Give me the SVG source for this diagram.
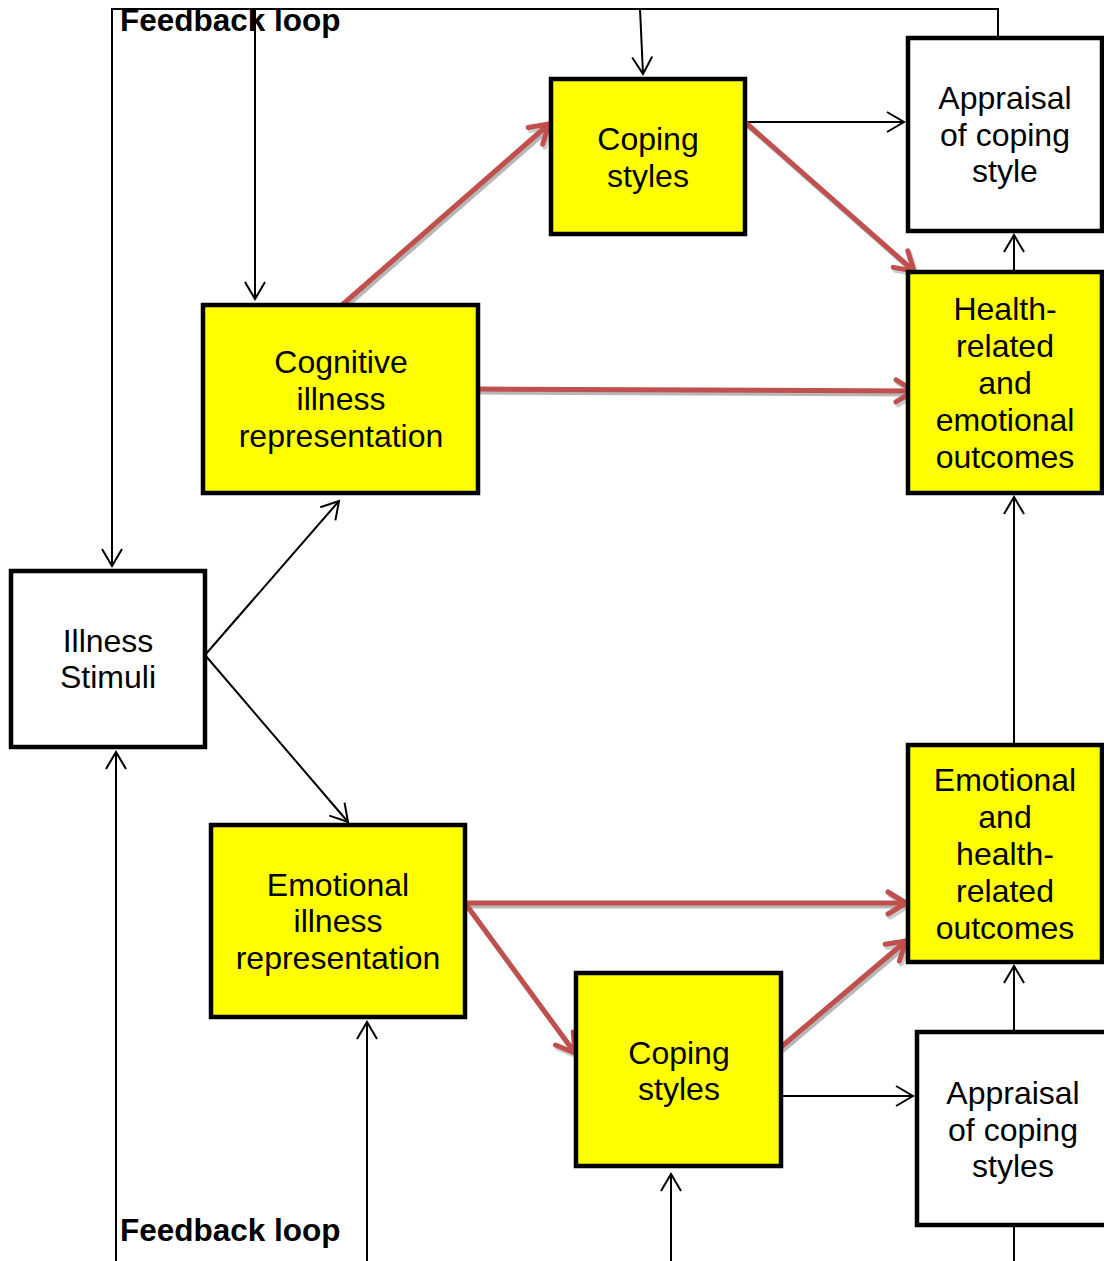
<svg xmlns="http://www.w3.org/2000/svg" width="1104" height="1261" viewBox="0 0 1104 1261">
<style>
.box{stroke:#000;stroke-width:4.5}
.y{fill:#ffff00}
.w{fill:#fff}
.t{font-family:"Liberation Sans",Arial,sans-serif;font-size:32px;fill:#000;text-anchor:middle}
.fb{font-family:"Liberation Sans",Arial,sans-serif;font-size:31.5px;font-weight:bold;fill:#000}
.k{stroke:#000;stroke-width:2;fill:none}
.r{stroke:#c0504d;stroke-width:5;fill:none;stroke-linecap:round}
.s{stroke:#999;stroke-width:5;fill:none;stroke-linecap:round;opacity:0.7}
</style>
<defs>
<marker id="ak" markerUnits="userSpaceOnUse" markerWidth="30" markerHeight="30" refX="0" refY="0" viewBox="-20 -15 25 30" orient="auto" overflow="visible">
<path d="M-17,-10 L0,0 L-17,10" fill="none" stroke="#000" stroke-width="2"/>
</marker>
<marker id="ar" markerUnits="userSpaceOnUse" markerWidth="30" markerHeight="30" refX="0" refY="0" viewBox="-20 -15 25 30" orient="auto" overflow="visible">
<path d="M-18,-11 L0,0 L-18,11" fill="none" stroke="#c0504d" stroke-width="5" stroke-linecap="round" stroke-linejoin="round"/>
</marker>
<marker id="as" markerUnits="userSpaceOnUse" markerWidth="30" markerHeight="30" refX="0" refY="0" viewBox="-20 -15 25 30" orient="auto" overflow="visible">
<path d="M-18,-11 L0,0 L-18,11" fill="none" stroke="#999" stroke-width="5" stroke-linecap="round" stroke-linejoin="round" opacity="0.7"/>
</marker>
</defs>
<rect width="1104" height="1261" fill="#fff"/>

<g id="connectors">
<path class="k" d="M998,38 L998,9 L112,9 L112,566" marker-end="url(#ak)"/>
<path class="k" d="M255,9 L255,299" marker-end="url(#ak)"/>
<path class="k" d="M640,9 L643,74" marker-end="url(#ak)"/>
<path class="k" d="M116,1261 L116,752" marker-end="url(#ak)"/>
<path class="k" d="M367,1261 L367,1022" marker-end="url(#ak)"/>
<path class="k" d="M671,1261 L671,1174" marker-end="url(#ak)"/>
<path class="k" d="M1014,1261 L1014,1227"/>
<path class="k" d="M745,122 L904,122" marker-end="url(#ak)"/>
<path class="k" d="M1014,272 L1014,235" marker-end="url(#ak)"/>
<path class="k" d="M1014,745 L1014,497" marker-end="url(#ak)"/>
<path class="k" d="M1014,1032 L1014,966" marker-end="url(#ak)"/>
<path class="k" d="M781,1096 L913,1096" marker-end="url(#ak)"/>
<path class="k" d="M205,655 L339,501" marker-end="url(#ak)"/>
<path class="k" d="M205,655 L348,822" marker-end="url(#ak)"/>

<g transform="translate(2,3)">
<path class="s" d="M342,305 L549,124" marker-end="url(#as)"/>
<path class="s" d="M745,122 L914,271" marker-end="url(#as)"/>
<path class="s" d="M478,389 L914,391" marker-end="url(#as)"/>
<path class="s" d="M465,903 L906,903" marker-end="url(#as)"/>
<path class="s" d="M465,903 L575,1053" marker-end="url(#as)"/>
<path class="s" d="M781,1047 L906,941" marker-end="url(#as)"/>
</g>
<path class="r" d="M342,305 L549,124" marker-end="url(#ar)"/>
<path class="r" d="M745,122 L914,271" marker-end="url(#ar)"/>
<path class="r" d="M478,389 L914,391" marker-end="url(#ar)"/>
<path class="r" d="M465,903 L906,903" marker-end="url(#ar)"/>
<path class="r" d="M465,903 L575,1053" marker-end="url(#ar)"/>
<path class="r" d="M781,1047 L906,941" marker-end="url(#ar)"/>
</g>

<g id="coping-top">
<rect class="box y" x="551" y="79" width="194" height="155"/>
<text class="t" x="648" y="150">Coping</text>
<text class="t" x="648" y="187">styles</text>
</g>
<g id="appraisal-top">
<rect class="box w" x="908" y="38" width="194" height="193"/>
<text class="t" x="1005" y="109">Appraisal</text>
<text class="t" x="1005" y="146">of coping</text>
<text class="t" x="1005" y="182">style</text>
</g>
<g id="cognitive">
<rect class="box y" x="203" y="305" width="275" height="188"/>
<text class="t" x="341" y="373">Cognitive</text>
<text class="t" x="341" y="410">illness</text>
<text class="t" x="341" y="447">representation</text>
</g>
<g id="health-outcomes">
<rect class="box y" x="908" y="272" width="194" height="221"/>
<text class="t" x="1005" y="320">Health-</text>
<text class="t" x="1005" y="357">related</text>
<text class="t" x="1005" y="394">and</text>
<text class="t" x="1005" y="431">emotional</text>
<text class="t" x="1005" y="468">outcomes</text>
</g>
<g id="illness-stimuli">
<rect class="box w" x="11" y="571" width="194" height="176"/>
<text class="t" x="108" y="652">Illness</text>
<text class="t" x="108" y="688">Stimuli</text>
</g>
<g id="emotional">
<rect class="box y" x="211" y="825" width="254" height="192"/>
<text class="t" x="338" y="896">Emotional</text>
<text class="t" x="338" y="932">illness</text>
<text class="t" x="338" y="969">representation</text>
</g>
<g id="emotional-outcomes">
<rect class="box y" x="908" y="745" width="194" height="217"/>
<text class="t" x="1005" y="791">Emotional</text>
<text class="t" x="1005" y="828">and</text>
<text class="t" x="1005" y="865">health-</text>
<text class="t" x="1005" y="902">related</text>
<text class="t" x="1005" y="939">outcomes</text>
</g>
<g id="coping-bottom">
<rect class="box y" x="576" y="973" width="205" height="193"/>
<text class="t" x="679" y="1064">Coping</text>
<text class="t" x="679" y="1100">styles</text>
</g>
<g id="appraisal-bottom">
<rect class="box w" x="917" y="1032" width="192" height="193"/>
<text class="t" x="1013" y="1104">Appraisal</text>
<text class="t" x="1013" y="1141">of coping</text>
<text class="t" x="1013" y="1177">styles</text>
</g>
<g id="labels">
<text class="fb" x="120" y="31">Feedback loop</text>
<text class="fb" x="120" y="1241">Feedback loop</text>
</g>
</svg>
